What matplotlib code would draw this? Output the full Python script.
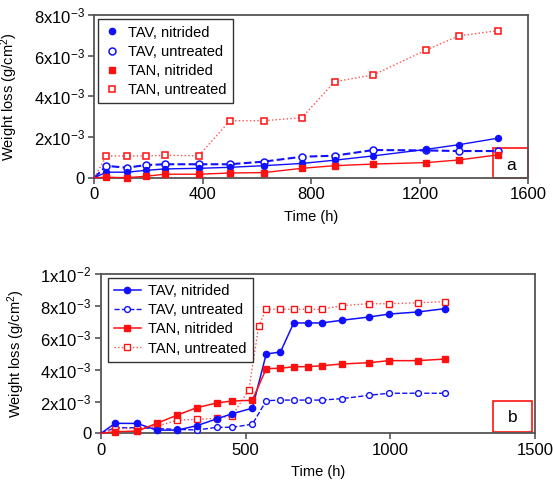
import matplotlib
matplotlib.use("Agg")
import matplotlib.pyplot as plt
from matplotlib.lines import Line2D
from matplotlib.patches import Rectangle
from matplotlib.ticker import FuncFormatter

plt.rcParams['font.family'] = ['Liberation Sans', 'DejaVu Sans']
plt.rcParams['mathtext.fontset'] = 'custom'
plt.rcParams['mathtext.rm'] = 'Liberation Sans'
plt.rcParams['mathtext.default'] = 'regular'

# ---- (a) weight loss vs time ----
time_a = [0, 45, 120, 190, 260, 385, 500, 625, 765, 886, 1028, 1222, 1343, 1487]
tav_nit_a = [0, 0.27, 0.27, 0.36, 0.43, 0.46, 0.51, 0.59, 0.70, 0.86, 1.07, 1.39, 1.62, 1.94]
tav_unt_a = [0, 0.58, 0.49, 0.62, 0.66, 0.66, 0.66, 0.79, 1.03, 1.08, 1.36, 1.34, 1.31, 1.31]
tan_nit_a = [0, 0.02, 0.0, 0.07, 0.17, 0.17, 0.23, 0.25, 0.46, 0.59, 0.67, 0.74, 0.87, 1.12]
tan_unt_a = [0, 1.07, 1.07, 1.07, 1.10, 1.08, 2.80, 2.80, 2.95, 4.72, 5.05, 6.27, 6.97, 7.23]

# ---- (b) weight loss vs time ----
time_b = [0, 49, 125, 193, 264, 331, 402, 453, 523, 571, 620, 666, 716, 762, 833, 925, 996, 1094, 1189]
tav_nit_b = [0, 0.63, 0.62, 0.20, 0.20, 0.48, 0.92, 1.23, 1.58, 4.99, 5.11, 6.94, 6.94, 6.94, 7.11, 7.31, 7.50, 7.63, 7.84]
tav_unt_b = [0, 0.35, 0.35, 0.30, 0.25, 0.21, 0.38, 0.38, 0.57, 2.05, 2.09, 2.09, 2.09, 2.09, 2.18, 2.39, 2.52, 2.52, 2.52]
tan_nit_b = [0, 0.10, 0.14, 0.63, 1.15, 1.61, 1.92, 2.03, 2.08, 4.07, 4.09, 4.19, 4.19, 4.25, 4.36, 4.44, 4.57, 4.57, 4.67]
time_tan_unt_b = [0, 49, 125, 193, 264, 331, 402, 453, 511, 545, 571, 620, 666, 716, 762, 833, 925, 996, 1094, 1189]
tan_unt_b = [0, 0.30, 0.30, 0.45, 0.82, 0.88, 0.94, 1.10, 2.74, 6.75, 7.80, 7.80, 7.80, 7.80, 7.80, 8.03, 8.15, 8.15, 8.21, 8.28]

labels = ["TAV, nitrided", "TAV, untreated", "TAN, nitrided", "TAN, untreated"]
yticks_a = [0, 2, 4, 6, 8]
yticks_b = [0, 2, 4, 6, 8, 10]
xticks_a = [0, 400, 800, 1200, 1600]
xticks_b = [0, 500, 1000, 1500]

BLUE = '#1010ff'
RED = '#ff1010'
LRED = '#ff5050'
SPINE = '#555555'
SCALE = 1e-3
MARKS = slice(1, None)   # the origin point carries the line only


def sci_label(v, pos):
    if abs(v) < 1e-12:
        return "0"
    exp = 0
    m = v
    while m >= 10 - 1e-9:
        m /= 10
        exp += 1
    while m < 1 - 1e-9:
        m *= 10
        exp -= 1
    return f"{m:.0f}x10$^{{{exp}}}$"


def style_axes(ax):
    for s in ax.spines.values():
        s.set_color(SPINE)
        s.set_linewidth(1.3)
    ax.tick_params(direction='out', length=4, width=1.2, color=SPINE,
                   labelsize=12, pad=3)
    ax.yaxis.set_major_formatter(FuncFormatter(sci_label))
    ax.set_xlabel("Time (h)", fontsize=10.5)
    ax.set_ylabel("Weight loss (g/cm$^2$)", fontsize=10.5)


fig = plt.figure(figsize=(5.53, 4.86), dpi=100)
fig.patch.set_facecolor('white')

sa = lambda arr: [v * SCALE for v in arr]

# panel a
ax1 = fig.add_axes([0.1705, 0.6344, 0.785, 0.3348])
ax1.plot(time_a, sa(tav_nit_a), '-', color=BLUE, lw=1.0, marker='o', ms=4.3,
         mfc=BLUE, mec=BLUE, markevery=MARKS, clip_on=False, zorder=4)
ax1.plot(time_a, sa(tav_unt_a), '--', color=BLUE, lw=1.5, marker='o', ms=5,
         mfc='white', mec=BLUE, mew=1.1, markevery=MARKS, clip_on=False, zorder=3)
ax1.plot(time_a, sa(tan_nit_a), '-', color=RED, lw=1.0, marker='s', ms=4.3,
         mfc=RED, mec=RED, markevery=MARKS, clip_on=False, zorder=4)
ax1.plot(time_a, sa(tan_unt_a), ':', color=LRED, lw=1.0, marker='s', ms=5,
         mfc='white', mec=RED, mew=1.1, markevery=MARKS, clip_on=False, zorder=3)
ax1.set_xlim(0, 1600)
ax1.set_ylim(0, 8e-3)
ax1.set_xticks(xticks_a)
ax1.set_yticks([v * SCALE for v in yticks_a])
style_axes(ax1)
ax1.xaxis.set_label_coords(0.5, -0.2)
ax1.yaxis.set_label_coords(-0.17, 0.5)
ax1.add_patch(Rectangle((1470, 0), 130, 1.45e-3, facecolor='none',
                        edgecolor=RED, lw=1.2, zorder=2, clip_on=False))
ax1.text(1535, 0.62e-3, "a", ha='center', va='center', fontsize=12.5)

handles_a = [
    Line2D([], [], ls='none', marker='o', ms=4.5, mfc=BLUE, mec=BLUE),
    Line2D([], [], ls='none', marker='o', ms=5, mfc='white', mec=BLUE, mew=1.1),
    Line2D([], [], ls='none', marker='s', ms=4.5, mfc=RED, mec=RED),
    Line2D([], [], ls='none', marker='s', ms=5, mfc='white', mec=RED, mew=1.1),
]
leg1 = fig.legend(handles_a, labels, loc='upper left',
                  bbox_to_anchor=(0.1778, 0.9609), fontsize=10.5,
                  frameon=True, fancybox=False, edgecolor='black',
                  handlelength=1.0, handletextpad=0.6, labelspacing=0.35,
                  borderpad=0.45, borderaxespad=0)
leg1.get_frame().set_linewidth(1.0)

# panel b
ax2 = fig.add_axes([0.1826, 0.1084, 0.785, 0.3272])
ax2.plot(time_b, sa(tav_nit_b), '-', color=BLUE, lw=1.1, marker='o', ms=4.5,
         mfc=BLUE, mec=BLUE, markevery=MARKS, clip_on=False, zorder=4)
ax2.plot(time_b, sa(tav_unt_b), '--', color=BLUE, lw=1.0, marker='o', ms=4.2,
         mfc='white', mec=BLUE, mew=1.0, markevery=MARKS, clip_on=False, zorder=3)
ax2.plot(time_b, sa(tan_nit_b), '-', color=RED, lw=1.1, marker='s', ms=4.5,
         mfc=RED, mec=RED, markevery=MARKS, clip_on=False, zorder=4)
ax2.plot(time_tan_unt_b, sa(tan_unt_b), ':', color=LRED, lw=1.0, marker='s', ms=4.7,
         mfc='white', mec=RED, mew=1.0, markevery=MARKS, clip_on=False, zorder=3)
ax2.set_xlim(0, 1500)
ax2.set_ylim(0, 1e-2)
ax2.set_xticks(xticks_b)
ax2.set_yticks([v * SCALE for v in yticks_b])
style_axes(ax2)
ax2.xaxis.set_label_coords(0.5, -0.2)
ax2.yaxis.set_label_coords(-0.17, 0.5)
ax2.add_patch(Rectangle((1356, 0.1e-3), 133, 1.95e-3, facecolor='white',
                        edgecolor=RED, lw=1.2, zorder=2))
ax2.text(1422, 1.0e-3, "b", ha='center', va='center', fontsize=12.5)

handles_b = [
    Line2D([], [], ls='-', color=BLUE, lw=1.1, marker='o', ms=4.5, mfc=BLUE, mec=BLUE),
    Line2D([], [], ls='--', color=BLUE, lw=1.0, marker='o', ms=4.2, mfc='white', mec=BLUE),
    Line2D([], [], ls='-', color=RED, lw=1.1, marker='s', ms=4.5, mfc=RED, mec=RED),
    Line2D([], [], ls=':', color=LRED, lw=1.0, marker='s', ms=4.7, mfc='white', mec=RED),
]
leg2 = fig.legend(handles_b, labels, loc='upper left',
                  bbox_to_anchor=(0.1948, 0.4286), fontsize=10.5,
                  frameon=True, fancybox=False, edgecolor='black',
                  handlelength=1.8, handletextpad=0.5, labelspacing=0.35,
                  borderpad=0.45, borderaxespad=0)
leg2.get_frame().set_linewidth(1.0)

fig.savefig("out.png", dpi=100, facecolor='white')
